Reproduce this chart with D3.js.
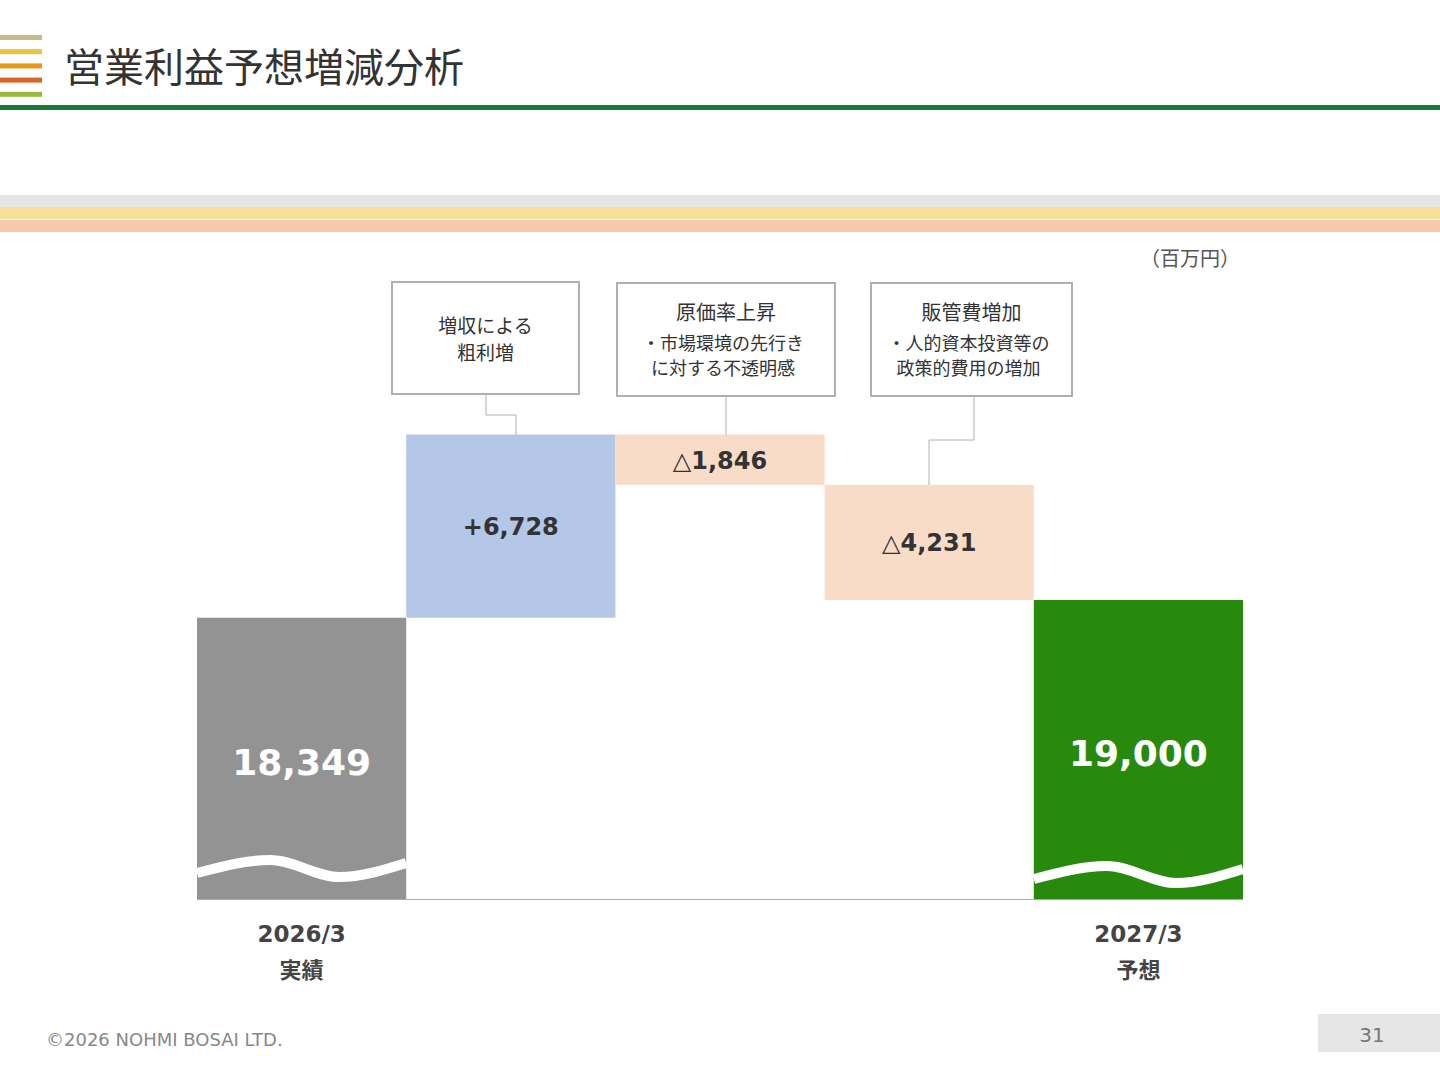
<!DOCTYPE html>
<html><head><meta charset="utf-8">
<script src="https://cdn.jsdelivr.net/npm/d3@7/dist/d3.min.js"></script>
<style>body{margin:0;background:#fff}svg{display:block;font-family:"Noto Sans CJK JP","Noto Sans",sans-serif}</style>
</head><body><svg id="c" width="1440" height="1080"></svg>
<script>
const categories = ["2026/3 実績","増収による粗利増","原価率上昇","販管費増加","2027/3 予想"];
const kinds = ["total","up","down","down","total"];
const values = [18349, 6728, -1846, -4231, 19000];
const valueLabels = ["18,349","+6,728","△1,846","△4,231","19,000"];
const axisLabels = [["2026/3","実績"],null,null,null,["2027/3","予想"]];
const calloutTitles = [null,["増収による","粗利増"],["原価率上昇"],["販管費増加"],null];
const calloutNotes = [null,[],["・市場環境の先行き","に対する不透明感"],["・人的資本投資等の","政策的費用の増加"],null];

const NUM = "'DejaVu Sans',Verdana,sans-serif";
const svg = d3.select("#c");
const iconColors = ["#c8b88a","#e8c340","#e8961a","#d8662a","#9ab83a"];
iconColors.forEach((c,i)=>svg.append("rect").attr("x",0).attr("y",35+i*14.2).attr("width",42).attr("height",5).attr("fill",c));
svg.append("text").attr("x",64).attr("y",82).attr("font-size",40).attr("fill","#333").text("営業利益予想増減分析");
svg.append("rect").attr("x",0).attr("y",105).attr("width",1440).attr("height",5).attr("fill","#1a7a3a");
[["#e6e6e6",195],["#f6df98",207],["#f7c9ac",220]].forEach(([c,y])=>svg.append("rect").attr("x",0).attr("y",y).attr("width",1440).attr("height",12).attr("fill",c));
svg.append("text").attr("x",1240).attr("y",266).attr("text-anchor","end").attr("font-size",20).attr("fill","#555").text("（百万円）");

const x = d3.scaleBand().domain(categories).range([197,1243]).padding(0);
const y = d3.scaleLinear().domain([8018, 19000]).range([899, 600]);
let run = 0;
const bars = values.map((v,i)=>{
  let a,b;
  if(kinds[i]==="total"){a=y.domain()[0];b=v;run=v;}
  else{a=run;b=run+v;run=b;}
  return {i,lo:Math.min(a,b),hi:Math.max(a,b)};
});
const fills = {total0:"#939393",up:"#b4c7e7",down:"#f9dcc8",total4:"#288a0c"};
const g = svg.append("g");
bars.forEach(d=>{
  const k = kinds[d.i]==="total" ? "total"+d.i : kinds[d.i];
  g.append("rect").attr("x",x(categories[d.i])).attr("width",x.bandwidth())
   .attr("y",y(d.hi)).attr("height",y(d.lo)-y(d.hi)).attr("fill",fills[k]);
  const cx = x(categories[d.i])+x.bandwidth()/2, cy=(y(d.hi)+y(d.lo))/2;
  if(kinds[d.i]==="total"){
    const x0=x(categories[d.i]), w=x.bandwidth(), off = d.i===0?0:-6;
    const base = y(d.lo);
    const pts=[[x0,base-26-off],[x0+w*0.35,base-39-off],[x0+w*0.68,base-22-off],[x0+w,base-36-off]];
    g.append("path").attr("d",d3.line().curve(d3.curveMonotoneX)(pts)).attr("stroke","#fff").attr("stroke-width",10).attr("fill","none");
    g.append("text").attr("x",cx).attr("y",(d.i===0?775:766)).attr("text-anchor","middle").attr("font-family",NUM).attr("font-size",36).attr("font-weight","bold").attr("fill","#fff").text(valueLabels[d.i]);
  } else {
    g.append("text").attr("x",cx).attr("y",cy+9).attr("text-anchor","middle").attr("font-family",NUM).attr("font-size",24).attr("font-weight","bold").attr("fill","#333").text(valueLabels[d.i]);
  }
  if(axisLabels[d.i]){
    axisLabels[d.i].forEach((t,j)=>g.append("text").attr("x",cx).attr("y",942+j*36).attr("text-anchor","middle").attr("font-family",j===0?NUM:null).attr("font-size",j===0?23:22).attr("font-weight","bold").attr("fill","#444").text(t));
  }
});
svg.append("line").attr("x1",197).attr("x2",1243).attr("y1",899.5).attr("y2",899.5).attr("stroke","#aaa").attr("stroke-width",1);

const boxes = {1:[392,282,187,112],2:[617,283,218,113],3:[871,283,201,113]};
const conn = {1:[[486,394],[486,415],[516,415],[516,435]],2:[[726,396],[726,435]],3:[[974,396],[974,440],[929,440],[929,485]]};
[1,2,3].forEach(i=>{
  const [bx,by,bw,bh]=boxes[i], cx=bx+bw/2;
  svg.append("rect").attr("x",bx).attr("y",by).attr("width",bw).attr("height",bh).attr("fill","#fff").attr("stroke","#b0b0b0").attr("stroke-width",2);
  svg.append("path").attr("d",d3.line()(conn[i])).attr("stroke","#b0b0b0").attr("fill","none");
  const t=calloutTitles[i], n=calloutNotes[i];
  if(n.length===0){
    t.forEach((s,j)=>svg.append("text").attr("x",cx).attr("y",333+j*27).attr("text-anchor","middle").attr("font-size",19).attr("fill","#333").text(s));
  } else {
    svg.append("text").attr("x",cx).attr("y",320).attr("text-anchor","middle").attr("font-size",20).attr("fill","#333").text(t[0]);
    n.forEach((s,j)=>svg.append("text").attr("x",cx-3).attr("y",350+j*25).attr("text-anchor","middle").attr("font-size",18).attr("fill","#333").text(s));
  }
});

svg.append("text").attr("x",46).attr("y",1046).attr("font-size",18).attr("fill","#888").attr("font-family",NUM).text("©2026 NOHMI BOSAI LTD.");
svg.append("rect").attr("x",1318).attr("y",1014).attr("width",122).attr("height",38).attr("fill","#e6e6e6");
svg.append("text").attr("x",1372).attr("y",1042).attr("text-anchor","middle").attr("font-size",20).attr("fill","#777").attr("font-family",NUM).text("31");
</script></body></html>
